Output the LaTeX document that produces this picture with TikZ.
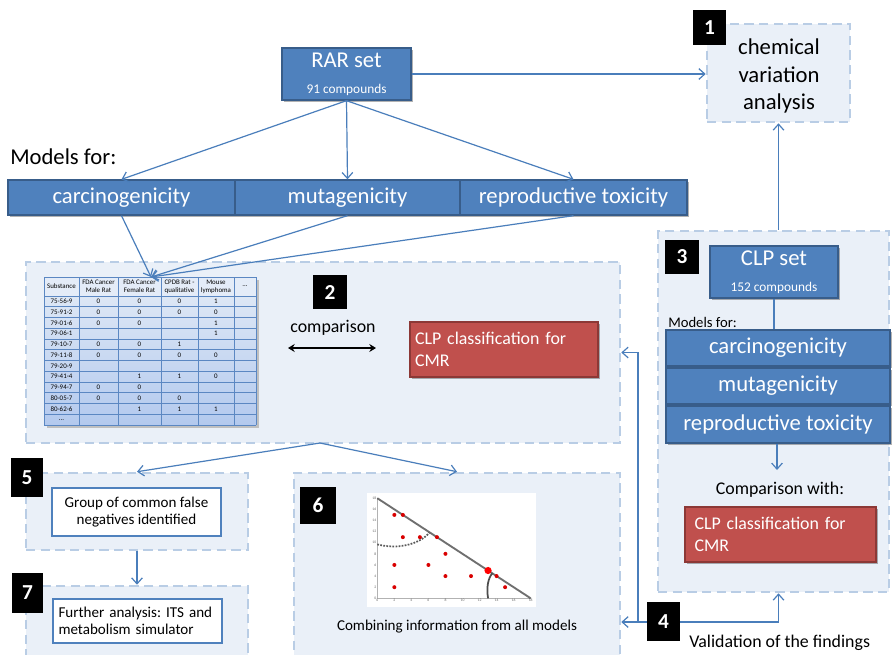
\documentclass[tikz,border=0pt]{standalone}
\usepackage{fontspec}
\setmainfont{Carlito}
\usetikzlibrary{arrows.meta,shadows}
\definecolor{cblue}{HTML}{4F81BD}
\definecolor{cbluedark}{HTML}{385D8A}
\definecolor{cred}{HTML}{C0504D}
\definecolor{creddark}{HTML}{8C3836}
\definecolor{dfill}{HTML}{EAF0F8}
\definecolor{dline}{HTML}{B9CDE5}
\definecolor{conn}{HTML}{4A7EBB}
\definecolor{tabtop}{HTML}{DDE7F5}
\definecolor{tabbot}{HTML}{B3C9EE}
\definecolor{tabhead}{HTML}{E4ECF8}
\definecolor{tabline}{HTML}{5B87C2}
\newcommand\fbig{\fontsize{17}{20.3}\selectfont}
\newcommand\fmid{\fontsize{13.4}{16.5}\selectfont}
\newcommand\fsmall{\fontsize{11.3}{13.2}\selectfont}
\newcommand\ftab{\fontsize{5.2}{6.2}\selectfont}
\frenchspacing
\begin{document}
\begin{tikzpicture}[x=0.75pt,y=-0.75pt,
  rect/.style args={#1,#2,#3,#4}{at={({(#1+#3)/2},{(#2+#4)/2})},
     minimum width={(#3-#1)*0.75pt}, minimum height={(#4-#2)*0.75pt}, inner sep=0pt},
  panel/.style={draw=dline, fill=dfill, line width=1.9pt, dash pattern=on 7pt off 4pt},
  bluebox/.style={draw=cbluedark, fill=cblue, line width=1pt, text=white, font=\fbig,
     drop shadow={shadow xshift=1.2pt, shadow yshift=-1.2pt, opacity=0.3, fill=black}},
  redbox/.style={draw=creddark, fill=cred, line width=1pt, text=white, font=\fmid,
     drop shadow={shadow xshift=1.2pt, shadow yshift=-1.2pt, opacity=0.3, fill=black}},
  whitebox/.style={draw=cblue, fill=white, line width=1.5pt, font=\fsmall},
  numbox/.style={fill=black, text=white, font=\fontsize{16}{18}\selectfont\bfseries},
  conn/.style={draw=conn, line width=0.9pt},
  arr/.style={conn, -{Straight Barb[length=4.5pt,width=8pt]}},
  lbl/.style={inner sep=0pt}
]
\clip (0,0) rectangle (892,654);
\fill[white] (0,0) rectangle (892,654);

% ---------- panels ----------
\node[panel, rect={707,24,850,122}] (box1) {};
\node[panel, rect={658,231,889,592}] (box3) {};
\node[panel, rect={26,262,620,443}] (box2) {};
\node[panel, rect={26,473,248,550}] (box5) {};
\node[panel, rect={26,586,248,680}] (box7) {};
\node[panel, rect={294,473,620,680}] (box6) {};

% ---------- number boxes ----------
\node[numbox, rect={693,10,726,45}] (n1) {1};
\node[numbox, rect={313,275,347,309}] (n2) {2};
\node[numbox, rect={665,240,699,274}] (n3) {3};
\node[numbox, rect={647,602,680,641}] (n4) {4};
\node[numbox, rect={11,458,43,497}] (n5) {5};
\node[numbox, rect={300,487,336,524}] (n6) {6};
\node[numbox, rect={12,573,43,613}] (n7) {7};

% ---------- top ----------
\node[bluebox, rect={282,48,411,100}, align=center] (rar)
  {RAR set\\[-1pt]{\fontsize{10}{12}\selectfont 91 compounds}};
\node[font=\fbig, align=center, lbl] (chem) at (779,76)
  {\fontsize{17}{20.3}\selectfont chemical\\variation\\analysis};

\node[font=\fbig, anchor=west, lbl] (models) at (10,157) {Models for:};
\node[bluebox, rect={8,180,235,215}] (carc) {carcinogenicity};
\node[bluebox, rect={235,180,460,215}] (muta) {mutagenicity};
\node[bluebox, rect={460,180,687,215}] (repro) {reproductive toxicity};

% ---------- box 2 contents ----------
\fill[black!25] (46.5,279.5) rectangle (258.5,427.5);
\shade[top color=tabtop, bottom color=tabbot] (44,296) rectangle (256,425);
\fill[tabhead] (44,277) rectangle (256,296);
\foreach \xx in {44,79,118,161,198,234,256}
  \draw[tabline, line width=0.5pt] (\xx,277) -- (\xx,425);
\draw[tabline, line width=0.5pt] (44,277) -- (256,277);
\foreach \k in {0,...,12}
  \draw[tabline, line width=0.5pt] (44,296+\k*10.75) -- (256,296+\k*10.75);
\node[font=\ftab, align=center, lbl] (h1) at (61.5,286.5) {Substance};
\node[font=\ftab, align=center, lbl] (h2) at (98.5,286.5) {FDA Cancer\\Male Rat};
\node[font=\ftab, align=center, lbl] (h3) at (139.5,286.5) {FDA Cancer\\Female Rat};
\node[font=\ftab, align=center, lbl] (h4) at (179.5,286.5) {CPDB Rat -\\qualitative};
\node[font=\ftab, align=center, lbl] (h5) at (216,286.5) {Mouse\\lymphoma};
\node[font=\ftab, align=center, lbl] (h6) at (245,286.5) {\ldots};
\foreach \s/\a/\b/\c/\d [count=\i] in {75-56-9/0/0/0/1, 75-91-2/0/0/0/0,
   79-01-6/0/0/~/1, 79-06-1/~/~/~/1, 79-10-7/0/0/1/~, 79-11-8/0/0/0/0,
   79-20-9/~/~/~/~, 79-41-4/~/1/1/0, 79-94-7/0/0/~/~, 80-05-7/0/0/0/~,
   80-62-6/~/1/1/1, \ldots/~/~/~/~}{
  \node[font=\ftab, lbl] (r\i-0) at (61.5,{296+(\i-0.5)*10.75}) {\s};
  \node[font=\ftab, lbl] (r\i-1) at (98.5,{296+(\i-0.5)*10.75}) {\a};
  \node[font=\ftab, lbl] (r\i-2) at (139.5,{296+(\i-0.5)*10.75}) {\b};
  \node[font=\ftab, lbl] (r\i-3) at (179.5,{296+(\i-0.5)*10.75}) {\c};
  \node[font=\ftab, lbl] (r\i-4) at (216,{296+(\i-0.5)*10.75}) {\d};
}
\coordinate (tabtop) at (151,277);

\node[font=\fmid, lbl] (cmp) at (333,328) {comparison};
\coordinate (da1) at (288,348);
\coordinate (da2) at (376,348);
\draw[line width=1.5pt, {Stealth[length=5pt,width=6pt]}-{Stealth[length=5pt,width=6pt]}] (da1) -- (da2);
\node[redbox, rect={410,322,598,377}, align=left, text width={178*0.75pt}] (cmr1)
  {CLP classification for\\CMR};

% ---------- box 3 contents ----------
\node[bluebox, rect={710,246,838,298}, align=center] (clp)
  {CLP set\\[-1pt]{\fontsize{10}{12}\selectfont 152 compounds}};
\node[font=\fontsize{11}{13}\selectfont, anchor=west, lbl] (models2) at (668,322) {Models for:};
\node[bluebox, rect={666,330,890,366}] (rcarc) {carcinogenicity};
\node[bluebox, rect={666,368,890,404}] (rmuta) {mutagenicity};
\node[bluebox, rect={666,406,890,443}] (rrepro) {reproductive toxicity};
\node[font=\fmid, lbl] (cw) at (780,490) {Comparison with:};
\coordinate (cwtop) at (777,470);
\node[redbox, rect={685,507,876,562}, align=left, text width={172*0.75pt}] (cmr2)
  {CLP classification for\\CMR};

% ---------- box 5 / 7 ----------
\node[whitebox, rect={52,488,221,536}, align=center] (w5)
  {Group of common false\\negatives identified};
\node[whitebox, rect={53,599,222,643}, align=left, text width={158*0.75pt}] (w7)
  {Further analysis: ITS and\\metabolism simulator};

% ---------- box 6 plot ----------
\fill[white] (367,493) rectangle (536,607);
\begin{scope}[shift={(377.3,598.3)}, x=6.39pt, y=4.17pt]
  \draw[gray!60, line width=0.3pt] (0,0) -- (18,0);
  \draw[gray!60, line width=0.3pt] (0,0) -- (0,18);
  \foreach \t in {0,2,...,18}{
    \node[font=\fontsize{2.8}{3}\selectfont, text=gray!80!black, anchor=north, inner sep=0.6pt] (xt\t) at (\t,0) {\t};
    \node[font=\fontsize{2.8}{3}\selectfont, text=gray!80!black, anchor=east, inner sep=0.6pt] (yt\t) at (0,\t) {\t};
  }
  \draw[gray!60!black, line width=1.4pt, opacity=0.8] (0,18) -- (18,0);
  \draw[gray!70!black, line width=1.3pt, densely dotted] (0,9.7) .. controls (2.5,8.7) and (5,9.8) .. (6.1,11.8);
  \draw[gray!60!black, line width=1.3pt] (13,0) .. controls (12.8,2) and (13,3.6) .. (13.5,4.5);
  \foreach \u/\v in {2/15,3/15,3/11,5/11,7/11,8/8,2/6,6/6,8/4,11/4,14/4,15/2,2/2}
    \fill[red!85!black] (\u,\v) circle[radius=1.5pt];
  \fill[red] (13,5) circle[radius=2.7pt];
\end{scope}
\node[font=\fsmall, lbl] (comb) at (457,627) {Combining information from all models};

\node[font=\fmid, anchor=west, lbl] (valid) at (689,643) {Validation of the findings};

% ---------- connectors ----------
\draw[arr] (rar.east) -- (rar.east -| box1.west);
\draw[arr] (rar.south) -- (carc.north);
\draw[arr] (rar.south) -- (muta.north);
\draw[arr] (rar.south) -- (repro.north);
\draw[arr] (carc.south) -- (tabtop);
\draw[arr] (muta.south) -- (tabtop);
\draw[arr] (repro.south) -- (tabtop);
\draw[arr] (box1.south |- box3.north) -- (box1.south);
\draw[conn] (clp.south) -- (clp.south |- rcarc.north);
\draw[arr] (rrepro.south -| cwtop) -- (cwtop);
\coordinate (b2b) at (320,443);
\draw[arr] (b2b) -- (box5.north);
\draw[arr] (b2b) -- (box6.north);
\draw[arr] (box5.south) -- (box5.south |- box7.north);
\coordinate (j4) at (638,622);
\draw[arr] (n4.west |- j4) -- (j4 -| box6.east);
\draw[arr] (j4) |- (box2.east);
\draw[arr] (n4.east |- j4) -| (box1.south |- box3.south);
\end{tikzpicture}
\end{document}
